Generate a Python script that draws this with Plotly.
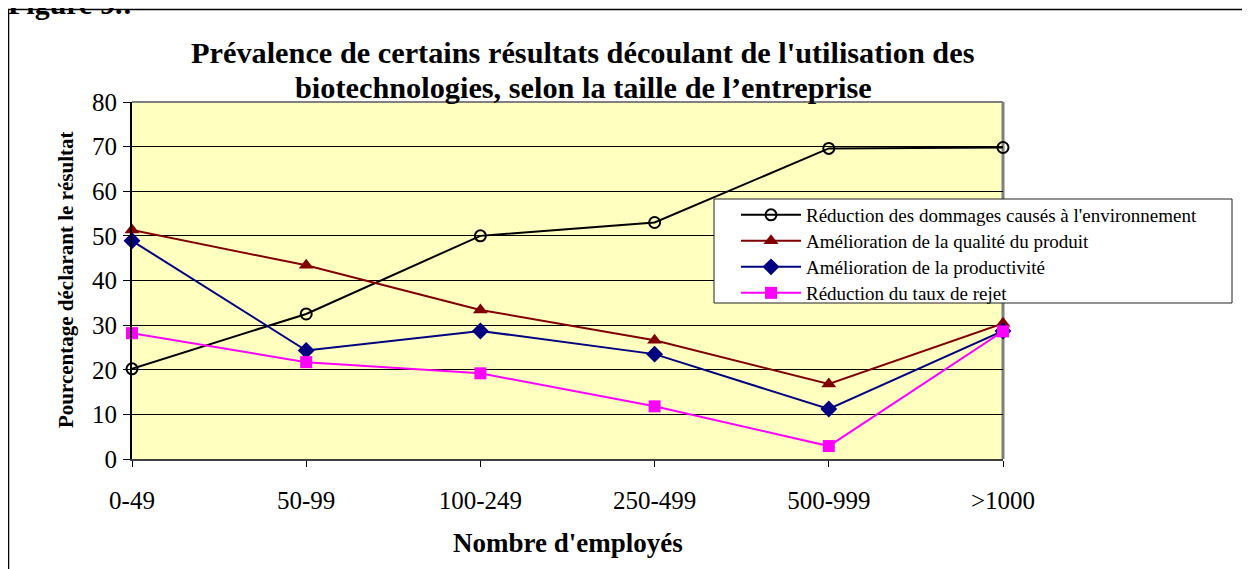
import plotly.graph_objects as go

categories = ["0-49", "50-99", "100-249", "250-499", "500-999", ">1000"]
reduction_dommages = [20.2, 32.5, 50.0, 53.0, 69.6, 69.8]
qualite_produit = [51.3, 43.4, 33.4, 26.6, 16.8, 30.4]
productivite = [48.9, 24.3, 28.7, 23.5, 11.2, 28.7]
taux_rejet = [28.2, 21.7, 19.2, 11.8, 2.9, 28.6]
y_ticks = [0, 10, 20, 30, 40, 50, 60, 70, 80]

series = [
    ("Réduction des dommages causés à l'environnement", reduction_dommages, "black", "circle-open", 11),
    ("Amélioration de la qualité du produit", qualite_produit, "#800000", "triangle-up", 13),
    ("Amélioration de la productivité", productivite, "#000080", "diamond", 13),
    ("Réduction du taux de rejet", taux_rejet, "#FF00FF", "square", 12),
]

xpos = list(range(len(categories)))
SERIF = "Liberation Serif, Times New Roman, serif"

# page has an 8px body margin; layout is expressed in page pixels
OFF = 8
PL, PR, PT, PB = 132, 1003, 102, 459   # plot area in page pixels
W, H = 1250 - OFF, 569 - OFF
L, T = PL - OFF, PT - OFF
pw, ph = PR - PL, PB - PT
R, B = W - L - pw, H - T - ph

def px(x):
    return (x - PL) / pw

def py(y):
    return (PB - y) / ph

legend_rows = [215, 241, 267, 293]
legend_names = ["legend", "legend2", "legend3", "legend4"]

fig = go.Figure()
for (name, vals, color, sym, size), lg in zip(series, legend_names):
    fig.add_trace(go.Scatter(
        x=xpos, y=vals, name=name, mode="lines+markers",
        line=dict(color=color, width=2),
        marker=dict(symbol=sym, size=size, color=color,
                    line=dict(color=color, width=2 if sym == "circle-open" else 0)),
        cliponaxis=False, legend=lg,
    ))

legend_layout = {}
for lg, row in zip(legend_names, legend_rows):
    legend_layout[lg] = dict(
        x=px(714), y=py(row), xanchor="left", yanchor="middle",
        bgcolor="rgba(0,0,0,0)", borderwidth=0,
        font=dict(family=SERIF, size=19, color="black"),
        itemwidth=60, indentation=22,
    )

fig.update_layout(
    width=W, height=H,
    margin=dict(l=L, r=R, t=T, b=B),
    paper_bgcolor="white",
    plot_bgcolor="#FFFFC0",
    font=dict(family=SERIF, color="black", size=25),
    showlegend=True,
    **legend_layout,
    xaxis=dict(
        range=[0, 5], tickmode="array", tickvals=xpos, ticktext=categories,
        showgrid=False, zeroline=False,
        showline=True, linecolor="#404040", linewidth=2,
        ticks="outside", ticklen=6, tickcolor="black",
        ticklabelstandoff=12,
        tickfont=dict(family=SERIF, size=25),
    ),
    yaxis=dict(
        range=[0, 80], tickvals=y_ticks,
        showgrid=True, gridcolor="black", gridwidth=1, zeroline=False,
        showline=True, linecolor="black", linewidth=2,
        ticks="outside", ticklen=7, tickcolor="black",
        ticklabelstandoff=1,
        tickfont=dict(family=SERIF, size=25),
    ),
    shapes=[
        dict(type="line", xref="paper", yref="paper", x0=0, x1=1, y0=1, y1=1,
             line=dict(color="#808080", width=2), layer="below"),
        dict(type="line", xref="paper", yref="paper", x0=1, x1=1, y0=0, y1=1,
             line=dict(color="#808080", width=3), layer="below"),
        dict(type="rect", xref="paper", yref="paper",
             x0=px(8.5), x1=px(1260), y0=py(580), y1=py(9.5),
             line=dict(color="black", width=1.5), fillcolor="rgba(0,0,0,0)", layer="below"),
        dict(type="rect", xref="paper", yref="paper",
             x0=px(714), x1=px(1232), y0=py(303), y1=py(199),
             line=dict(color="#222222", width=1), fillcolor="white", layer="above"),
    ],
    annotations=[
        dict(text="<b>Figure 9.:</b>", xref="paper", yref="paper", x=px(6), y=py(22),
             xanchor="left", yanchor="bottom", showarrow=False,
             font=dict(family=SERIF, size=30)),
        dict(text="<b>Prévalence de certains résultats découlant de l'utilisation des</b>",
             xref="paper", yref="paper", x=px(583), y=py(53),
             xanchor="center", yanchor="middle", showarrow=False,
             font=dict(family=SERIF, size=30.3)),
        dict(text="<b>biotechnologies, selon la taille de l’entreprise</b>",
             xref="paper", yref="paper", x=px(583), y=py(88),
             xanchor="center", yanchor="middle", showarrow=False,
             font=dict(family=SERIF, size=30.3)),
        dict(text="<b>Nombre d'employés</b>", xref="paper", yref="paper",
             x=px(568), y=py(543), xanchor="center", yanchor="middle", showarrow=False,
             font=dict(family=SERIF, size=27)),
        dict(text="<b>Pourcentage déclarant le résultat</b>", xref="paper", yref="paper",
             x=px(66), y=py(280), xanchor="center", yanchor="middle", showarrow=False,
             textangle=-90, font=dict(family=SERIF, size=21)),
    ],
)

fig.write_html("out.html")
